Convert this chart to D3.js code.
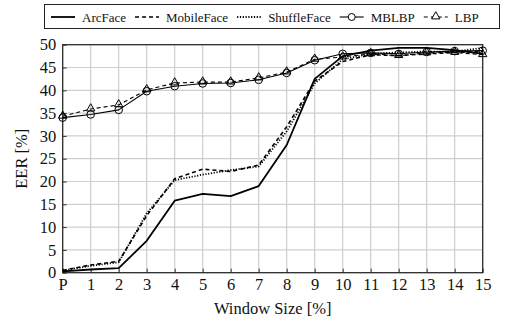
<!DOCTYPE html>
<html>
<head>
<meta charset="utf-8">
<script src="https://cdn.jsdelivr.net/npm/d3@7"></script>
<style>
  body { margin: 0; background: #fff; }
</style>
</head>
<body>
<script>
  const windows = ['P', '1', '2', '3', '4', '5', '6', '7', '8', '9', '10', '11', '12', '13', '14', '15'];
  const yTicks = [0, 5, 10, 15, 20, 25, 30, 35, 40, 45, 50];

  const arcFace     = [0.3, 0.7, 1.0, 7.0, 15.8, 17.3, 16.8, 19.0, 28.0, 42.5, 47.5, 48.7, 49.3, 49.3, 48.8, 48.0];
  const mobileFace  = [0.5, 1.7, 2.5, 12.5, 20.6, 22.7, 22.2, 23.6, 32.0, 42.0, 46.3, 47.8, 47.6, 48.0, 48.3, 48.5];
  const shuffleFace = [0.5, 1.5, 2.3, 13.0, 20.3, 21.5, 22.5, 23.3, 31.0, 41.5, 46.8, 48.0, 48.3, 48.5, 48.5, 49.3];
  const mblbp       = [34.0, 34.7, 35.7, 39.8, 40.9, 41.5, 41.6, 42.3, 43.8, 46.6, 48.0, 48.2, 48.0, 48.4, 48.6, 48.7];
  const lbp         = [34.3, 35.9, 36.8, 40.1, 41.6, 41.8, 41.8, 42.7, 44.0, 46.8, 47.3, 48.0, 47.6, 48.2, 48.3, 47.8];

  const series = [
    { name: 'ArcFace', values: arcFace, dash: null, width: 1.8, mark: null },
    { name: 'MobileFace', values: mobileFace, dash: '4,3', width: 1.6, mark: null },
    { name: 'ShuffleFace', values: shuffleFace, dash: '1.2,1.6', width: 1.8, mark: null },
    { name: 'MBLBP', values: mblbp, dash: null, width: 1.1, mark: 'circle' },
    { name: 'LBP', values: lbp, dash: '4,3', width: 1.1, mark: 'triangle' }
  ];

  const FONT = 'Liberation Serif';

  const W = 505, H = 322;
  const margin = { left: 62.7, top: 44.7, right: 22.3, bottom: 49.3 };
  const width = W - margin.left - margin.right;
  const height = H - margin.top - margin.bottom;

  const svg = d3.select('body').append('svg')
    .attr('width', W)
    .attr('height', H);

  const g = svg.append('g')
    .attr('transform', `translate(${margin.left},${margin.top})`);

  const x = d3.scalePoint().domain(windows).range([0, width]);
  const y = d3.scaleLinear().domain([0, 50]).range([height, 0]);

  // grid
  g.append('g').selectAll('line').data(windows).enter().append('line')
    .attr('x1', d => x(d)).attr('x2', d => x(d))
    .attr('y1', 0).attr('y2', height)
    .attr('stroke', '#cfcfcf').attr('stroke-width', 1.2);
  g.append('g').selectAll('line').data(yTicks).enter().append('line')
    .attr('x1', 0).attr('x2', width)
    .attr('y1', d => y(d)).attr('y2', d => y(d))
    .attr('stroke', '#cfcfcf').attr('stroke-width', 1.2);

  // axes
  const xAxis = d3.axisBottom(x).tickSize(-4).tickPadding(6);
  g.append('g')
    .attr('transform', `translate(0,${height})`)
    .call(xAxis)
    .call(s => s.select('.domain').remove())
    .call(s => s.selectAll('line').attr('stroke', '#333'))
    .call(s => s.selectAll('text')
      .attr('font-family', FONT).attr('font-size', 16.5).attr('fill', '#111'));

  const yAxis = d3.axisLeft(y).tickValues(yTicks).tickSize(-4).tickPadding(6.5);
  g.append('g')
    .call(yAxis)
    .call(s => s.select('.domain').remove())
    .call(s => s.selectAll('line').attr('stroke', '#333'))
    .call(s => s.selectAll('text')
      .attr('font-family', FONT).attr('font-size', 16.5).attr('fill', '#111'));

  // frame
  g.append('rect')
    .attr('width', width).attr('height', height)
    .attr('fill', 'none').attr('stroke', '#222').attr('stroke-width', 1.2);

  const line = d3.line()
    .x((d, i) => x(windows[i]))
    .y(d => y(d));

  const tri = d3.symbol().type(d3.symbolTriangle).size(30);

  series.forEach(s => {
    g.append('path')
      .attr('d', line(s.values))
      .attr('fill', 'none')
      .attr('stroke', '#000')
      .attr('stroke-width', s.width)
      .attr('stroke-dasharray', s.dash)
      .attr('stroke-linejoin', 'round');
    if (s.mark === 'circle') {
      g.append('g').selectAll('circle').data(s.values).enter().append('circle')
        .attr('cx', (d, i) => x(windows[i]))
        .attr('cy', d => y(d))
        .attr('r', 3.8)
        .attr('fill', 'none').attr('stroke', '#000').attr('stroke-width', 1);
    }
    if (s.mark === 'triangle') {
      g.append('g').selectAll('path').data(s.values).enter().append('path')
        .attr('d', tri)
        .attr('transform', (d, i) => `translate(${x(windows[i])},${y(d) - 0.5})`)
        .attr('fill', 'none').attr('stroke', '#000').attr('stroke-width', 1);
    }
  });

  // axis titles
  svg.append('text')
    .attr('x', margin.left + width / 2).attr('y', 314)
    .attr('text-anchor', 'middle')
    .attr('font-family', FONT)
    .attr('font-size', 16.5)
    .attr('fill', '#111')
    .text('Window Size [%]');

  svg.append('text')
    .attr('transform', `translate(27,${margin.top + height / 2}) rotate(-90)`)
    .attr('text-anchor', 'middle')
    .attr('font-family', FONT)
    .attr('font-size', 16.5)
    .attr('fill', '#111')
    .text('EER [%]');

  // legend
  const legend = svg.append('g');
  legend.append('rect')
    .attr('x', 44.5).attr('y', 4.5).attr('width', 455).attr('height', 24)
    .attr('fill', '#fff').attr('stroke', '#222').attr('stroke-width', 1);

  let lx = 51;
  const ly = 17;
  series.forEach(s => {
    const it = legend.append('g');
    it.append('line')
      .attr('x1', lx).attr('x2', lx + 24)
      .attr('y1', ly).attr('y2', ly)
      .attr('stroke', '#000')
      .attr('stroke-width', s.width)
      .attr('stroke-dasharray', s.dash);
    if (s.mark === 'circle') {
      it.append('circle').attr('cx', lx + 12).attr('cy', ly).attr('r', 3.5)
        .attr('fill', '#fff').attr('stroke', '#000').attr('stroke-width', 1);
    }
    if (s.mark === 'triangle') {
      it.append('path').attr('d', tri)
        .attr('transform', `translate(${lx + 12},${ly - 0.5})`)
        .attr('fill', '#fff').attr('stroke', '#000').attr('stroke-width', 1);
    }
    const t = it.append('text')
      .attr('x', lx + 31).attr('y', ly + 4.5)
      .attr('font-family', FONT)
      .attr('font-size', 13)
      .attr('fill', '#111')
      .text(s.name);
    lx += 31 + t.node().getComputedTextLength() + 9;
  });
</script>
</body>
</html>
